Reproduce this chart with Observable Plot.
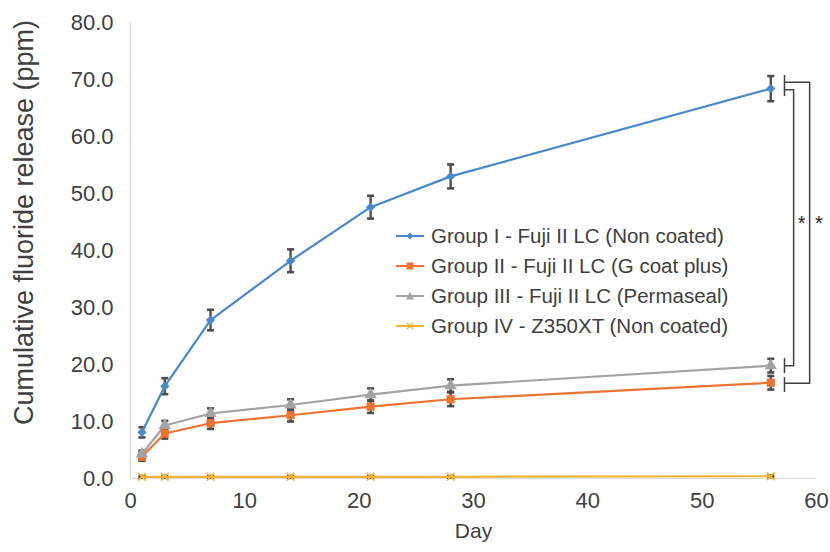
<!DOCTYPE html>
<html>
<head>
<meta charset="utf-8">
<script src="https://cdn.jsdelivr.net/npm/d3@7"></script>
<script src="https://cdn.jsdelivr.net/npm/@observablehq/plot@0.6"></script>
<style>
  html, body { margin: 0; padding: 0; background: #fff; }
  #wrap { position: relative; width: 830px; height: 552px; font-family: "Liberation Sans", Arial, sans-serif; }
  #legend { position: absolute; left: 395px; top: 221px; font-size: 20.5px; color: #404040; }
  .row { height: 30px; display: flex; align-items: center; white-space: nowrap; }
  .row svg { margin-right: 6px; }
</style>
</head>
<body>
<div id="wrap"></div>
<script>
// ---- data ----
const days = [1, 3, 7, 14, 21, 28, 56];
const groupNames = [
  "Group I - Fuji II LC (Non coated)",
  "Group II - Fuji II LC (G coat plus)",
  "Group III - Fuji II LC (Permaseal)",
  "Group IV - Z350XT (Non coated)"
];
const groupI   = [8.1, 16.2, 27.8, 38.2, 47.6, 53.0, 68.4];
const groupII  = [3.8, 7.9, 9.7, 11.1, 12.6, 13.9, 16.8];
const groupIII = [4.3, 9.3, 11.4, 12.9, 14.7, 16.3, 19.8];
const groupIV  = [0.3, 0.3, 0.3, 0.3, 0.3, 0.3, 0.4];
const errI   = [0.9, 1.4, 1.8, 2.0, 2.0, 2.1, 2.2];
const errII  = [0.7, 0.9, 1.0, 1.1, 1.1, 1.2, 1.2];
const errIII = [0.6, 0.8, 0.9, 1.0, 1.1, 1.1, 1.2];
const errIV  = [0.15, 0.15, 0.15, 0.15, 0.15, 0.15, 0.15];
const colors  = ["#4a89c8", "#ea7434", "#a3a3a3", "#f5b335"];
const symbols = ["diamond2", "square", "triangle", "times"];
const yTicks = [0, 10, 20, 30, 40, 50, 60, 70, 80];
const xTicks = [0, 10, 20, 30, 40, 50, 60];
// significance brackets (data units)
const bracketTicks = [
  {x: 57.2, y1: 67.0, y2: 70.7},
  {x: 57.2, y1: 18.4, y2: 21.05},
  {x: 57.2, y1: 15.1, y2: 17.7}
];
const innerBracket = [{x: 57.2, y: 68.2}, {x: 58.0, y: 68.2}, {x: 58.0, y: 19.8}, {x: 57.2, y: 19.8}];
const outerBracket = [{x: 57.2, y: 69.5}, {x: 59.4, y: 69.5}, {x: 59.4, y: 16.7}, {x: 57.2, y: 16.7}];
const stars = [{x: 58.7, y: 44.7, t: "*"}, {x: 60.2, y: 44.7, t: "*"}];

// ---- build table ----
const seriesVals = [groupI, groupII, groupIII, groupIV];
const seriesErr = [errI, errII, errIII, errIV];
const table = [];
seriesVals.forEach((vals, g) => vals.forEach((v, i) => table.push({
  group: groupNames[g], gi: g, day: days[i], v, lo: v - seriesErr[g][i], hi: v + seriesErr[g][i]
})));

const capSymbol = { draw(ctx, size) { const w = Math.sqrt(size); ctx.moveTo(-w / 2, 0); ctx.lineTo(w / 2, 0); } };
const textColor = "#404040";

const marks = [
  Plot.ruleX([0], {stroke: "#d9d9d9", strokeWidth: 1.2}),
  Plot.ruleY([0], {stroke: "#d9d9d9", strokeWidth: 1.2}),
  Plot.axisY({ticks: yTicks, tickFormat: d3.format(".1f"), tickSize: 0, tickPadding: 17, fontSize: 22, label: null, fill: textColor}),
  Plot.axisX({ticks: xTicks, tickSize: 0, tickPadding: 14, fontSize: 22, label: null, fill: textColor}),
  Plot.text(["Cumulative fluoride release (ppm)"], {frameAnchor: "left", textAnchor: "middle", rotate: -90, dx: -106, dy: -28, fontSize: 27, fill: textColor}),
  Plot.text(["Day"], {frameAnchor: "bottom", dy: 59, fontSize: 21, fill: textColor}),
  // error bars
  Plot.ruleX(table, {x: "day", y1: "lo", y2: "hi", stroke: "#4d4d4d", strokeWidth: 2.4}),
  Plot.dot(table, {x: "day", y: "lo", symbol: capSymbol, r: 4, stroke: "#4d4d4d", strokeWidth: 2.6}),
  Plot.dot(table, {x: "day", y: "hi", symbol: capSymbol, r: 4, stroke: "#4d4d4d", strokeWidth: 2.6})
];
groupNames.forEach((name, g) => {
  const d = table.filter(r => r.gi === g);
  marks.push(Plot.line(d, {x: "day", y: "v", stroke: colors[g], strokeWidth: 2.2}));
});
groupNames.forEach((name, g) => {
  const d = table.filter(r => r.gi === g);
  if (symbols[g] === "times") {
    marks.push(Plot.dot(d, {x: "day", y: "v", symbol: "times", r: 3.6, stroke: colors[g], strokeWidth: 1.6}));
  } else {
    marks.push(Plot.dot(d, {x: "day", y: "v", symbol: symbols[g], r: symbols[g] === "diamond2" ? 4.2 : 4.6, fill: colors[g], stroke: "none"}));
  }
});
marks.push(
  Plot.ruleX(bracketTicks, {x: "x", y1: "y1", y2: "y2", stroke: "#404040", strokeWidth: 1.5}),
  Plot.line(innerBracket, {x: "x", y: "y", stroke: "#404040", strokeWidth: 1.5}),
  Plot.line(outerBracket, {x: "x", y: "y", stroke: "#404040", strokeWidth: 1.5}),
  Plot.text(stars, {x: "x", y: "y", text: "t", fontSize: 20, fill: "#222"})
);

const chart = Plot.plot({
  width: 830,
  height: 552,
  marginLeft: 130,
  marginRight: 14,
  marginTop: 22,
  marginBottom: 74,
  style: {fontFamily: "'Liberation Sans', Arial, sans-serif", background: "#fff", overflow: "visible"},
  x: {domain: [0, 60]},
  y: {domain: [0, 80]},
  marks
});
const wrap = document.getElementById("wrap");
wrap.appendChild(chart);

// legend
const legend = document.createElement("div");
legend.id = "legend";
groupNames.forEach((name, g) => {
  const row = document.createElement("div");
  row.className = "row";
  const sym = symbols[g];
  let shape = "";
  if (sym === "diamond2") shape = `<path d="M15,2.5 L18.5,6 L15,9.5 L11.5,6 Z" fill="${colors[g]}"/>`;
  else if (sym === "square") shape = `<rect x="11.5" y="2.5" width="7" height="7" fill="${colors[g]}"/>`;
  else if (sym === "triangle") shape = `<path d="M15,2 L19,9.5 L11,9.5 Z" fill="${colors[g]}"/>`;
  else shape = `<path d="M12,3 L18,9 M18,3 L12,9" stroke="${colors[g]}" stroke-width="1.4"/>`;
  row.innerHTML = `<svg width="30" height="12"><line x1="1" y1="6" x2="29" y2="6" stroke="${colors[g]}" stroke-width="2"/>${shape}</svg><span>${name}</span>`;
  legend.appendChild(row);
});
wrap.appendChild(legend);
</script>
</body>
</html>
